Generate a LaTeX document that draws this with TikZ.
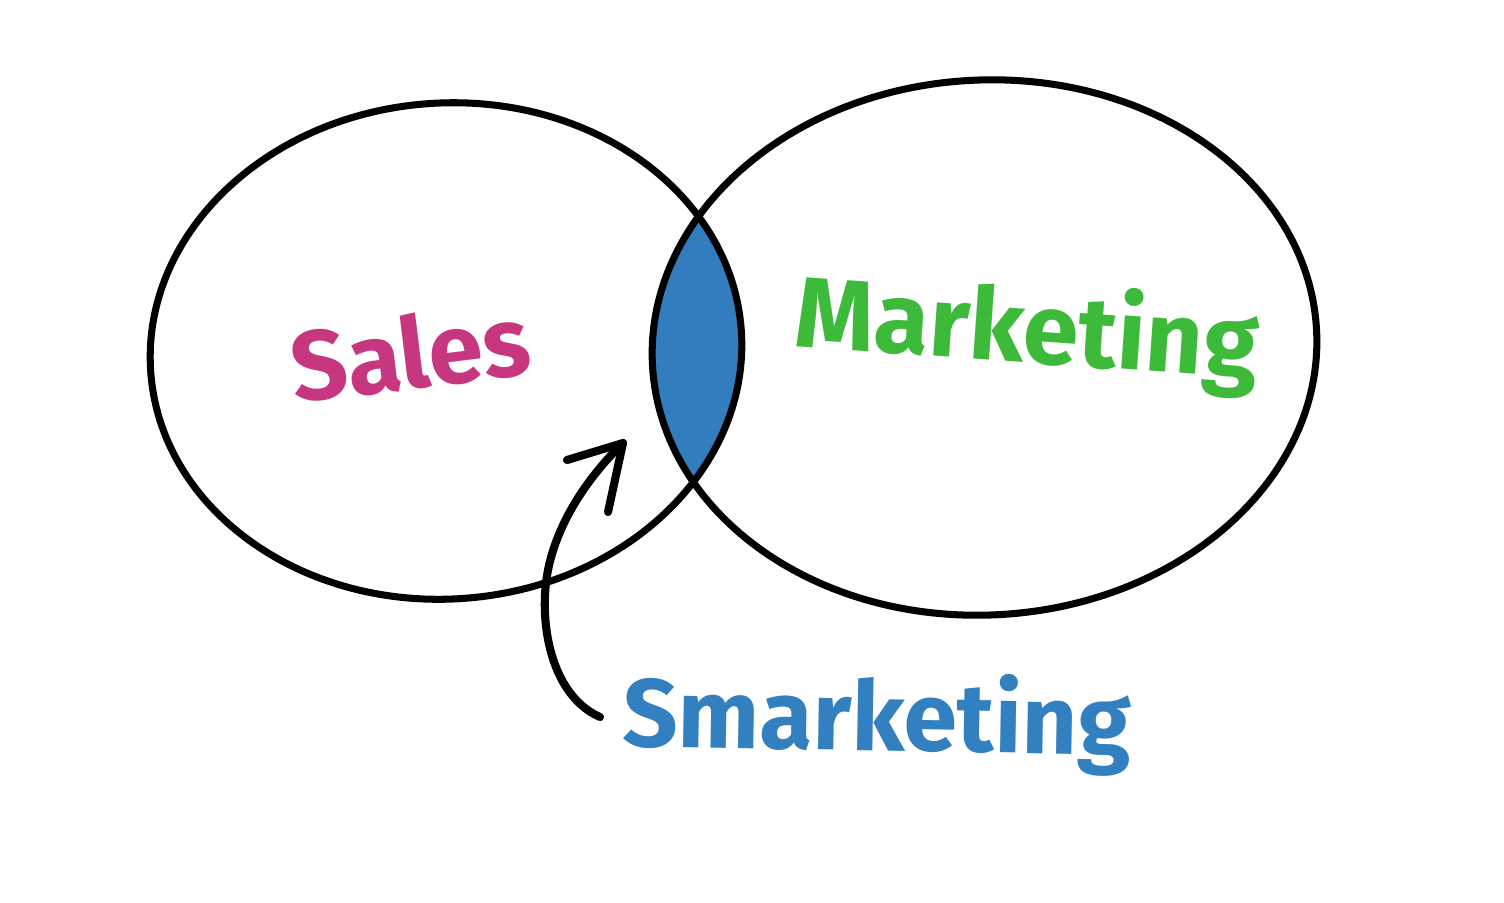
\documentclass[tikz,border=0pt]{standalone}
\usepackage{fontspec}
\newfontfamily\hand{Fira Sans}
\definecolor{salescol}{HTML}{C6377F}
\definecolor{mktcol}{HTML}{3DBA3A}
\definecolor{smkcol}{HTML}{3380C0}
\definecolor{lenscol}{HTML}{317DBE}
\tikzset{
  outline/.style={draw=black, line width=2pt},
  label/.style={font=\hand\bfseries, inner sep=0pt},
  pointer/.style={draw=black, line width=2.3pt, line cap=round, line join=round}
}
\begin{document}
\begin{tikzpicture}[x=0.01cm,y=-0.01cm]
\useasboundingbox (0,0) rectangle (1504,902);
% lens
\begin{scope}
  \clip[rotate around={4:(446,351)}] (446,351) ellipse [x radius=296, y radius=248];
  \fill[lenscol, rotate around={3:(984.5,347.5)}] (984.5,347.5) ellipse [x radius=332.5, y radius=267.5];
\end{scope}
\draw[outline, rotate around={4:(446,351)}] (446,351) ellipse [x radius=296, y radius=248];
\draw[outline, rotate around={3:(984.5,347.5)}] (984.5,347.5) ellipse [x radius=332.5, y radius=267.5];
% labels
\node[label, text=salescol, font=\hand\bfseries\fontsize{28}{30}\selectfont, rotate=7] (sales) at (410,352) {Sales};
\node[label, text=mktcol, font=\hand\bfseries\fontsize{28.5}{31}\selectfont, rotate=-4] (mkt) at (1027,333) {Marketing};
\node[label, text=smkcol, font=\hand\bfseries\fontsize{27.5}{30}\selectfont, rotate=-1] (smk) at (877,722) {Smarketing};
% arrow
\coordinate (astart) at (600,717);
\coordinate (amid) at (548,570);
\coordinate (atip) at (623,443);
\coordinate (barbA) at (567,460);
\coordinate (barbB) at (608,512);
\draw[pointer] (astart) .. controls (550,695) and (538,620) .. (amid)
  .. controls (558,520) and (590,475) .. (atip);
\draw[pointer] (barbA) -- (atip) -- (barbB);
\end{tikzpicture}
\end{document}
